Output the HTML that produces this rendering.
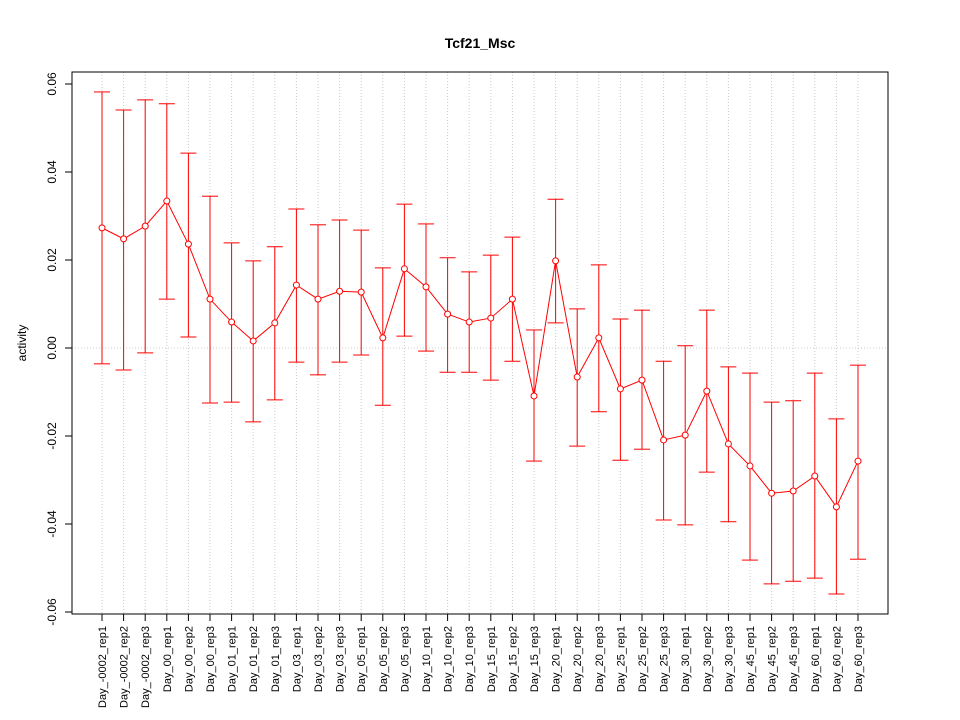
<!DOCTYPE html>
<html><head><meta charset="utf-8"><style>body{margin:0;background:#fff}svg{display:block}</style></head>
<body>
<svg id="chart" width="960" height="720" xmlns="http://www.w3.org/2000/svg" font-family="Liberation Sans, sans-serif"></svg>
<script>
const categories=["Day_-0002_rep1","Day_-0002_rep2","Day_-0002_rep3","Day_00_rep1","Day_00_rep2","Day_00_rep3","Day_01_rep1","Day_01_rep2","Day_01_rep3","Day_03_rep1","Day_03_rep2","Day_03_rep3","Day_05_rep1","Day_05_rep2","Day_05_rep3","Day_10_rep1","Day_10_rep2","Day_10_rep3","Day_15_rep1","Day_15_rep2","Day_15_rep3","Day_20_rep1","Day_20_rep2","Day_20_rep3","Day_25_rep1","Day_25_rep2","Day_25_rep3","Day_30_rep1","Day_30_rep2","Day_30_rep3","Day_45_rep1","Day_45_rep2","Day_45_rep3","Day_60_rep1","Day_60_rep2","Day_60_rep3"];
const values=[0.0273,0.0248,0.0277,0.0334,0.0236,0.0111,0.0059,0.0016,0.0057,0.0143,0.0111,0.0129,0.0127,0.0023,0.0180,0.0139,0.0077,0.0059,0.0068,0.0111,-0.0109,0.0198,-0.0066,0.0023,-0.0093,-0.0073,-0.0209,-0.0198,-0.0098,-0.0218,-0.0268,-0.0330,-0.0325,-0.0291,-0.0361,-0.0257];
const upper=[0.0582,0.0541,0.0564,0.0555,0.0443,0.0345,0.0239,0.0198,0.0230,0.0316,0.0280,0.0291,0.0268,0.0182,0.0327,0.0282,0.0205,0.0173,0.0211,0.0252,0.0041,0.0338,0.0089,0.0189,0.0066,0.0086,-0.0030,0.0005,0.0086,-0.0043,-0.0057,-0.0123,-0.0120,-0.0057,-0.0161,-0.0039];
const lower=[-0.0036,-0.0050,-0.0011,0.0111,0.0025,-0.0125,-0.0123,-0.0168,-0.0118,-0.0032,-0.0061,-0.0032,-0.0016,-0.0130,0.0027,-0.0007,-0.0055,-0.0055,-0.0073,-0.0030,-0.0257,0.0057,-0.0223,-0.0145,-0.0255,-0.0230,-0.0391,-0.0402,-0.0282,-0.0395,-0.0482,-0.0536,-0.0530,-0.0523,-0.0559,-0.0480];
const yTicks=[0.06,0.04,0.02,0.00,-0.02,-0.04,-0.06];
const tickLabels=["0.06","0.04","0.02","0.00","-0.02","-0.04","-0.06"];
const NS="http://www.w3.org/2000/svg",svg=document.getElementById('chart');
const L=72,R=888,T=72,B=614;
const x=i=>102+i*(858-102)/(categories.length-1);
const y=v=>348-v*4400;
function el(t,a,p){const e=document.createElementNS(NS,t);for(const k in a)e.setAttribute(k,a[k]);(p||svg).appendChild(e);return e;}
const title=el('text',{x:480,y:48,'text-anchor':'middle','font-size':14,'font-weight':'bold'});title.textContent='Tcf21_Msc';


categories.forEach((c,i)=>{const g=el('line',{x1:x(i),x2:x(i),y1:T,y2:B,stroke:'#ccc','stroke-dasharray':'1,2'});

});
const h=el('line',{x1:L,x2:R,y1:y(0),y2:y(0),stroke:'#ccc','stroke-dasharray':'1,2'});


const frame=el('rect',{x:L,y:T,width:R-L,height:B-T,fill:'none',stroke:'#000'});


el('line',{x1:L,x2:L,y1:y(0.06),y2:y(-0.06),stroke:'#000'});
yTicks.forEach((v,i)=>{el('line',{x1:L-7,x2:L,y1:y(v),y2:y(v),stroke:'#000'});
const t=el('text',{x:0,y:0,transform:`translate(${L-16},${y(v)}) rotate(-90)`,'text-anchor':'middle','font-size':12});t.textContent=tickLabels[i];

});
const yl=el('text',{transform:'translate(26,343) rotate(-90)','text-anchor':'middle','font-size':12});yl.textContent='activity';


el('line',{x1:x(0),x2:x(categories.length-1),y1:B,y2:B,stroke:'#000'});
categories.forEach((c,i)=>{el('line',{x1:x(i),x2:x(i),y1:B,y2:B+7,stroke:'#000'});
const t=el('text',{transform:`translate(${x(i)+4},${B+12}) rotate(-90)`,'text-anchor':'end','font-size':11});t.textContent=c;

});
categories.forEach((c,i)=>{const g=el('g',{stroke:'red','stroke-width':1});


el('line',{x1:x(i),x2:x(i),y1:y(upper[i]),y2:y(lower[i])},g);
el('line',{x1:x(i)-8,x2:x(i)+8,y1:y(upper[i]),y2:y(upper[i])},g);
el('line',{x1:x(i)-8,x2:x(i)+8,y1:y(lower[i]),y2:y(lower[i])},g);});
const line=el('polyline',{points:values.map((v,i)=>x(i)+','+y(v)).join(' '),fill:'none',stroke:'red'});


values.forEach((v,i)=>{const p=el('circle',{cx:x(i),cy:y(v),r:3,fill:'#fff',stroke:'red'});

});
</script>
</body></html>
